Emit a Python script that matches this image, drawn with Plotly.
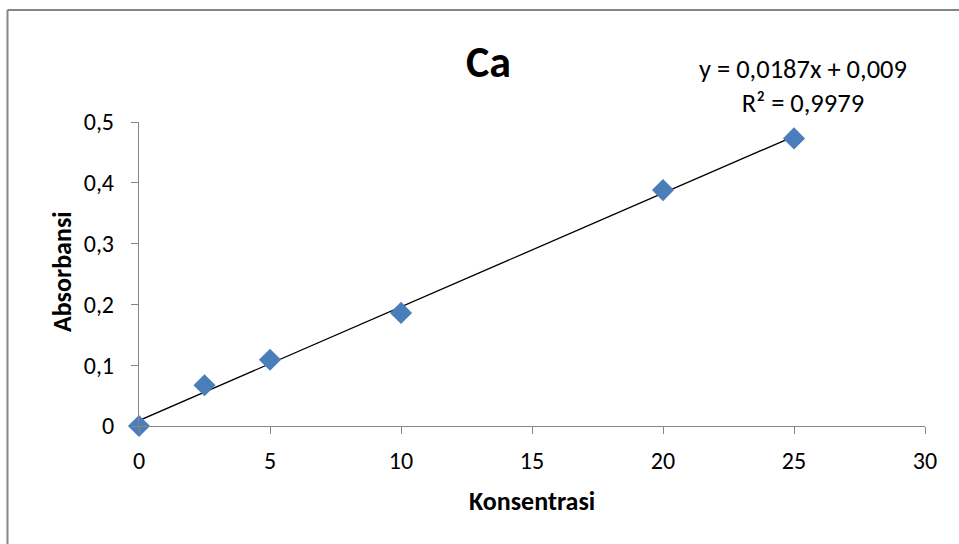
import numpy as np
import plotly.graph_objects as go

konsentrasi = [0, 2.5, 5, 10, 20, 25]
absorbansi = [0.0, 0.067, 0.109, 0.186, 0.388, 0.473]
slope = 0.0187
intercept = 0.009
r2 = 0.9979
x_ticks = [0, 5, 10, 15, 20, 25, 30]
y_ticks = [0, 0.1, 0.2, 0.3, 0.4, 0.5]

W, H = 959, 544
L, R, T, B = 139, 34, 122, 118
pw, ph = W - L - R, H - T - B

def px(x):
    return (x - L) / pw

def py(y):
    return (H - B - y) / ph

FONT = "Carlito, Lato, 'Open Sans', sans-serif"
axis_col = "#868686"

fig = go.Figure()
tx = np.array([min(konsentrasi), max(konsentrasi)])
fig.add_trace(go.Scatter(x=tx, y=slope * tx + intercept, mode="lines",
                         line=dict(color="black", width=1.3), showlegend=False,
                         hoverinfo="skip"))
fig.add_trace(go.Scatter(x=konsentrasi, y=absorbansi, mode="markers",
                         marker=dict(symbol="diamond", size=17, color="#4A7EBB",
                                     line=dict(width=0)),
                         showlegend=False, cliponaxis=False))

fig.update_layout(
    width=W, height=H,
    margin=dict(l=L, r=R, t=T, b=B),
    paper_bgcolor="white", plot_bgcolor="white",
    separators=",.",
    font=dict(family=FONT, size=24, color="black"),
    xaxis=dict(range=[0, 30], tickvals=x_ticks, showgrid=False, zeroline=False,
               showline=True, linecolor=axis_col, linewidth=1.3,
               ticks="outside", ticklen=7, tickcolor=axis_col, tickwidth=1.3,
               ticklabelstandoff=6,
               tickfont=dict(size=24)),
    yaxis=dict(range=[0, 0.5], tickvals=y_ticks, showgrid=False, zeroline=False,
               showline=True, linecolor=axis_col, linewidth=1.3,
               ticks="outside", ticklen=7, tickcolor=axis_col, tickwidth=1.3,
               ticklabelstandoff=12,
               tickfont=dict(size=24)),
)

ann = [
    dict(text="<b>Ca</b>", x=px(488), y=py(62), font=dict(size=44)),
    dict(text="y = 0,0187x + 0,009<br>R² = 0,9979", x=px(803), y=py(86),
         font=dict(size=26.5)),
    dict(text="<b>Konsentrasi</b>", x=px(532), y=py(501), font=dict(size=26)),
    dict(text="<b>Absorbansi</b>", x=px(62), y=py(272), font=dict(size=26),
         textangle=-90),
]
for a in ann:
    fig.add_annotation(xref="paper", yref="paper", showarrow=False,
                       xanchor="center", yanchor="middle", **a)

fig.add_shape(type="line", xref="paper", yref="paper",
              x0=px(7.5), x1=px(W + 5), y0=py(10), y1=py(10),
              line=dict(color=axis_col, width=2))
fig.add_shape(type="line", xref="paper", yref="paper",
              x0=px(7.5), x1=px(7.5), y0=py(10), y1=py(H + 5),
              line=dict(color=axis_col, width=2))

fig.write_html("out.html")
